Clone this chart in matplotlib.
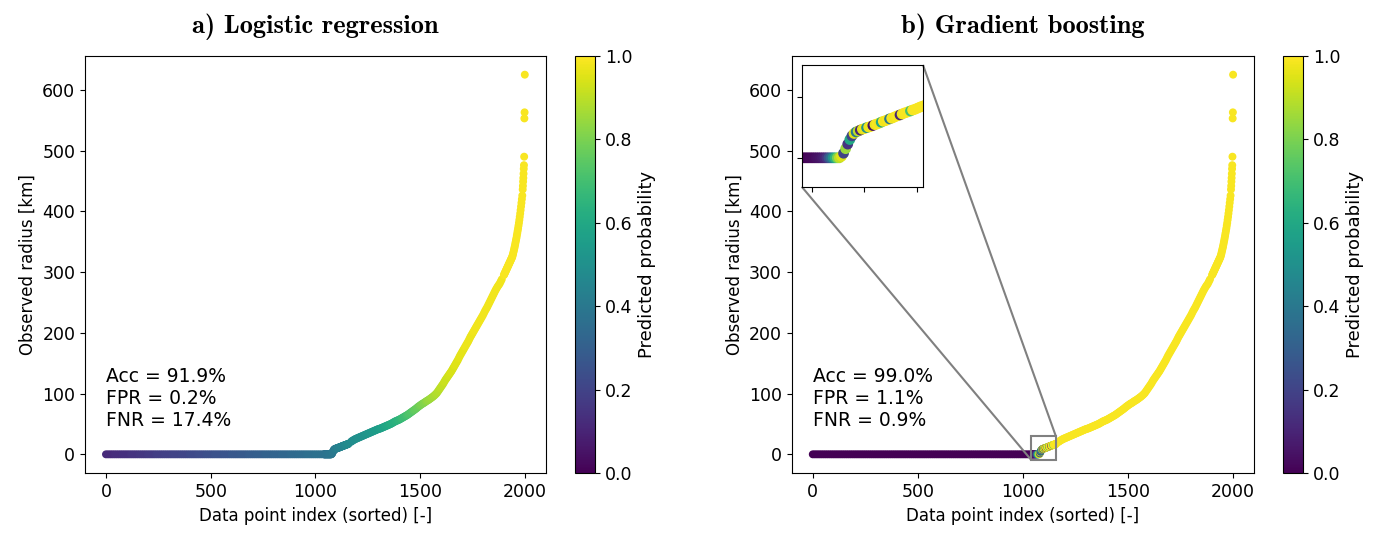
import numpy as np
import matplotlib
matplotlib.use("Agg")
import matplotlib.pyplot as plt
from mpl_toolkits.axes_grid1.inset_locator import mark_inset

# Sorted data point index, split in segments (sampled from the figure)
idx_flat = np.arange(0, 1031, 10)
idx_knee = np.arange(1040, 1159, 2)
idx_mid = np.arange(1170, 1891, 5)
idx_upper = np.arange(1900, 1989, 2)
idx_tail = np.arange(1990, 2001)

# Observed radius [km]
radius_flat = [0.0] * 104
radius_knee = [0.0] * 19 + [
    0.5, 1.5, 3.0, 4.5, 6.0, 7.2, 8.0, 8.5, 8.8, 9.1, 9.4, 9.6, 9.9, 10.1,
    10.3, 10.6, 10.9, 11.1, 11.4, 11.7, 12.0, 12.2, 12.5, 12.8, 13.0, 13.3,
    13.6, 13.9, 14.1, 14.4, 14.7, 14.9, 15.2, 15.4, 15.7, 15.9, 16.2, 16.5,
    16.8, 17.0, 17.3]
radius_mid = [
    20.5, 22, 23, 24, 25, 25.8, 26.5, 27.3, 28, 28.8,
    29.5, 30.3, 31, 31.8, 32.5, 33.3, 34, 34.8, 35.5, 36.3,
    37, 37.8, 38.5, 39.3, 40, 40.8, 41.5, 42, 42.5, 43.3,
    44, 44.8, 45.5, 46.3, 47, 47.8, 48.5, 49.3, 50, 51,
    52, 53, 54, 54.8, 55.5, 56.3, 57, 58, 59, 60,
    61, 62, 63, 64, 65, 66.3, 67.5, 68.8, 70, 71.3,
    72.5, 73.8, 75, 76.5, 78, 79.3, 80.5, 81.8, 83, 84,
    85, 86.3, 87.5, 88.5, 89.5, 90.8, 92, 93.3, 94.5, 96,
    97.5, 99.2, 101, 103.5, 106, 108.5, 111, 113.5, 116, 119,
    122, 124.5, 127, 129.5, 132, 134.5, 137, 140, 143, 146,
    149, 152, 155, 158.5, 162, 165, 168, 171, 174, 177,
    180, 183, 186, 189.5, 193, 196, 199, 202, 205, 208,
    211, 214, 217, 220, 223, 226, 229, 232.5, 236, 239,
    242, 245.5, 249, 252.5, 256, 259.5, 263, 266.5, 270, 273,
    276, 278.5, 281, 284.5, 288]
radius_upper = [
    295, 296.5, 298, 299.5, 301, 302.5, 304, 305.5, 307, 308.5,
    310, 311.5, 313, 314.5, 316, 317.5, 319, 320.5, 322, 323.5,
    325, 327.5, 330, 333, 336, 339, 342, 345.5, 349, 352.5,
    356, 360, 364, 368, 372, 376.5, 381, 386, 391, 396.5,
    402, 408, 414, 420, 426]
radius_tail = [436, 442, 449, 455, 462, 470, 476, 490, 553, 563, 625]

# Predicted probability, logistic regression
lr_prob_flat = [
    0.12, 0.12, 0.12, 0.12, 0.13, 0.13, 0.13, 0.13, 0.14, 0.14, 0.14, 0.14,
    0.15, 0.15, 0.15, 0.15, 0.16, 0.16, 0.16, 0.16, 0.17, 0.17, 0.17, 0.17,
    0.18, 0.18, 0.18, 0.18, 0.19, 0.19, 0.19, 0.19, 0.20, 0.20, 0.20, 0.20,
    0.21, 0.21, 0.21, 0.21, 0.22, 0.22, 0.22, 0.22, 0.23, 0.23, 0.23, 0.23,
    0.24, 0.24, 0.24, 0.24, 0.25, 0.25, 0.25, 0.25, 0.26, 0.26, 0.26, 0.26,
    0.27, 0.27, 0.27, 0.27, 0.28, 0.28, 0.28, 0.28, 0.29, 0.29, 0.29, 0.29,
    0.30, 0.30, 0.30, 0.30, 0.31, 0.31, 0.31, 0.31, 0.32, 0.32, 0.32, 0.32,
    0.33, 0.33, 0.33, 0.33, 0.34, 0.34, 0.34, 0.34, 0.35, 0.35, 0.35, 0.35,
    0.36, 0.36, 0.36, 0.36, 0.37, 0.37, 0.37, 0.37]
lr_prob_knee = [
    0.37, 0.37, 0.37, 0.37, 0.37, 0.38, 0.38, 0.38, 0.38, 0.38, 0.38, 0.38,
    0.39, 0.39, 0.39, 0.39, 0.39, 0.39, 0.39,
    0.39, 0.39, 0.40, 0.40, 0.40, 0.40, 0.41, 0.41, 0.41, 0.41, 0.42, 0.42,
    0.42, 0.42, 0.43, 0.43, 0.43, 0.43, 0.44, 0.44, 0.44, 0.44, 0.44, 0.45,
    0.45, 0.45, 0.45, 0.45, 0.46, 0.46, 0.46, 0.46, 0.46, 0.47, 0.47, 0.47,
    0.47, 0.47, 0.48, 0.48, 0.48]
lr_prob_mid = [
    0.48, 0.48, 0.49, 0.49, 0.49, 0.49, 0.50, 0.50, 0.50, 0.50,
    0.51, 0.51, 0.51, 0.51, 0.52, 0.52, 0.52,
    0.53, 0.53, 0.53, 0.53, 0.54, 0.54, 0.55, 0.55, 0.55, 0.55,
    0.56, 0.56, 0.57, 0.57, 0.58, 0.58, 0.59, 0.59, 0.60, 0.60,
    0.61, 0.61, 0.62, 0.62, 0.63, 0.63, 0.64, 0.64, 0.65, 0.65,
    0.66, 0.67, 0.68, 0.68, 0.69, 0.69, 0.70, 0.71, 0.72, 0.72,
    0.73, 0.73, 0.74, 0.75, 0.76, 0.76, 0.77, 0.77, 0.78, 0.79,
    0.80, 0.80, 0.81, 0.81, 0.82, 0.83, 0.84, 0.84, 0.85, 0.85,
    0.86, 0.86, 0.87, 0.87, 0.88, 0.88, 0.89, 0.89, 0.90, 0.90,
    0.91, 0.91, 0.92, 0.92, 0.92, 0.92, 0.93, 0.93, 0.94, 0.94,
    0.94, 0.94, 0.95, 0.95, 0.95, 0.95, 0.96, 0.96, 0.96, 0.96,
    0.96, 0.96, 0.97, 0.97, 0.97, 0.97, 0.97, 0.97, 0.97, 0.97] + [0.98] * 28
lr_prob_upper = [0.99] * 45
lr_prob_tail = [0.99] * 11

# Predicted probability, gradient boosting
gb_prob_flat = [0.0] * 104
gb_prob_knee = [
    0.0, 0.0, 0.01, 0.01, 0.02, 0.02, 0.03, 0.04, 0.05, 0.06, 0.08, 0.10,
    0.15, 0.25, 0.35, 0.50, 0.65, 0.80, 0.90,
    0.95, 0.2, 0.85, 0.15, 0.6, 0.2, 0.95, 0.4, 0.9, 0.1, 0.95, 0.98, 0.5,
    0.97, 0.98, 0.05, 0.97, 0.99, 0.98, 0.6, 0.99, 0.98, 0.99, 0.4, 0.99,
    0.98, 0.99, 0.99, 0.1, 0.98, 0.99, 0.99, 0.99, 0.7, 0.99, 0.99, 0.99,
    0.99, 0.99, 0.99, 0.99]
gb_prob_mid = [0.99] * 145
gb_prob_upper = [0.99] * 45
gb_prob_tail = [0.99] * 11

metrics_lr = "Acc = 91.9%\nFPR = 0.2%\nFNR = 17.4%"
metrics_gb = "Acc = 99.0%\nFPR = 1.1%\nFNR = 0.9%"

index = np.concatenate([idx_flat, idx_knee, idx_mid, idx_upper, idx_tail])
radius = np.concatenate([radius_flat, radius_knee, radius_mid, radius_upper, radius_tail])
lr_prob = np.concatenate([lr_prob_flat, lr_prob_knee, lr_prob_mid, lr_prob_upper, lr_prob_tail])
gb_prob = np.concatenate([gb_prob_flat, gb_prob_knee, gb_prob_mid, gb_prob_upper, gb_prob_tail])

plt.rcParams["font.size"] = 12
plt.rcParams["xtick.labelsize"] = 12.5
plt.rcParams["ytick.labelsize"] = 12.5

fig = plt.figure(figsize=(13.83, 5.33), dpi=100)
ax1 = fig.add_axes([0.0615, 0.112, 0.3331, 0.7835])
cax1 = fig.add_axes([0.4158, 0.112, 0.0145, 0.7835])
ax2 = fig.add_axes([0.5725, 0.112, 0.3343, 0.7835])
cax2 = fig.add_axes([0.9277, 0.112, 0.0145, 0.7835])

ms = 22
for ax, cax, prob, title, txt in [
        (ax1, cax1, lr_prob, "a) Logistic regression", metrics_lr),
        (ax2, cax2, gb_prob, "b) Gradient boosting", metrics_gb)]:
    sc = ax.scatter(index, radius, c=prob, cmap="viridis", vmin=0, vmax=1, s=ms)
    ax.set_xlabel("Data point index (sorted) [-]")
    ax.set_ylabel("Observed radius [km]")
    ax.set_xticks([0, 500, 1000, 1500, 2000])
    ax.set_title(title, fontfamily="cmb10", fontsize=19, pad=16)
    ax.text(0.045, 0.255, txt, transform=ax.transAxes, va="top", ha="left",
            fontsize=13.5)
    cb = fig.colorbar(sc, cax=cax)
    cb.set_label("Predicted probability", fontsize=13)
    cb.set_ticks([0.0, 0.2, 0.4, 0.6, 0.8, 1.0])

# zoomed inset on the transition region
axins = fig.add_axes([0.5797, 0.6497, 0.0877, 0.2283])
axins.scatter(index, radius, c=gb_prob, cmap="viridis", vmin=0, vmax=1, s=45)
axins.set_xlim(1040, 1156)
axins.set_ylim(-9.5, 30.5)
axins.set_xticks([1050, 1100, 1150])
axins.set_yticks([0, 20])
axins.set_xticklabels([])
axins.set_yticklabels([])
mark_inset(ax2, axins, loc1=1, loc2=3, fc="none", ec="0.5", lw=1.5)

fig.savefig("out.png", dpi=100)
